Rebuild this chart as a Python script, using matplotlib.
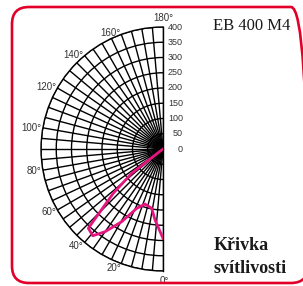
import numpy as np
import matplotlib
matplotlib.use('Agg')
import matplotlib.pyplot as plt
from matplotlib.patches import FancyBboxPatch
from matplotlib.transforms import IdentityTransform, offset_copy

# luminous intensity curve (angle in degrees, intensity in cd/klm)
angles = [0, 6.4, 10.8, 18.1, 23.9, 29.6, 35.0, 39.0, 43.3, 45.1, 48.3, 52.2, 56.5]
intensity = [293, 234, 198, 190, 213, 274, 331, 366, 357, 291, 218, 130, 0]

r_ticks = [0, 50, 100, 150, 200, 250, 300, 350, 400]
theta_labels = [0, 20, 40, 60, 80, 100, 120, 140, 160, 180]

title = 'EB 400 M4'
caption = 'Křivka\nsvítlivosti'

W, H = 303, 286
fig = plt.figure(figsize=(W / 100, H / 100), dpi=100)

# half polar grid, centre at (163, 149) px, radius 122 px
# (matplotlib squares the wedge box, so the axes is 2R x 2R)
cx, cy, R = 163, 149, 122
ax = fig.add_axes([(cx - 1.5 * R) / W, (H - cy - R) / H, 2 * R / W, 2 * R / H], projection='polar')
ax.set_theta_zero_location('S')
ax.set_theta_direction(-1)
ax.set_thetamin(0)
ax.set_thetamax(180)
ax.set_rlim(0, 400)
ax.set_rticks(r_ticks[1:])
ax.set_thetagrids(np.arange(0, 181, 5))
ax.set_xticklabels([])
ax.set_yticklabels([])
ax.grid(True, color='black', lw=1.0)
ax.tick_params(length=0)
for s in ax.spines.values():
    s.set_color('black')
    s.set_linewidth(1.0)

ax.plot(np.deg2rad(angles), intensity, color='#e4157f', lw=2.0, zorder=5)

# angle labels
lab_col = '#333333'
for t in theta_labels:
    th = np.deg2rad(t)
    if t == 180:
        ax.text(th, 412, f'{t}°', ha='center', va='bottom', fontsize=7,
                color=lab_col, family='Liberation Sans')
    elif t == 0:
        ax.text(th, 418, f'{t}°', ha='left', va='top', fontsize=7,
                color=lab_col, family='Liberation Sans',
                transform=offset_copy(ax.transData, fig, x=-3, y=0, units='dots'))
    else:
        ax.text(th, 404, f'{t}°', ha='right', va='center', fontsize=7,
                color=lab_col, family='Liberation Sans',
                transform=offset_copy(ax.transData, fig, x=0, y=-(90 - t) / 20 if t < 90 else 0, units='dots'))

# radial labels along the vertical axis
tr = offset_copy(ax.transData, fig, x=20, y=0, units='dots')
for r in r_ticks:
    ax.text(np.pi, r, str(r), ha='right', va='center', fontsize=6.5,
            color=lab_col, family='Liberation Sans', transform=tr)

fig.text(213 / W, 1 - 26 / H, title, ha='left', va='center', fontsize=12,
         family='Liberation Serif', color='#1a1a1a')
fig.text(214 / W, 1 - 257 / H, caption, ha='left', va='center', fontsize=13,
         family='Liberation Serif', weight='bold', color='#1a1a1a', linespacing=1.4)

# red rounded frame, right edge runs just off the picture
frame = FancyBboxPatch((12, 3), 296, 276, boxstyle='round,pad=0,rounding_size=17',
                       transform=IdentityTransform(), fill=False, ec='#e2002a', lw=1.9)
fig.add_artist(frame)

fig.savefig('out.png', dpi=100)
